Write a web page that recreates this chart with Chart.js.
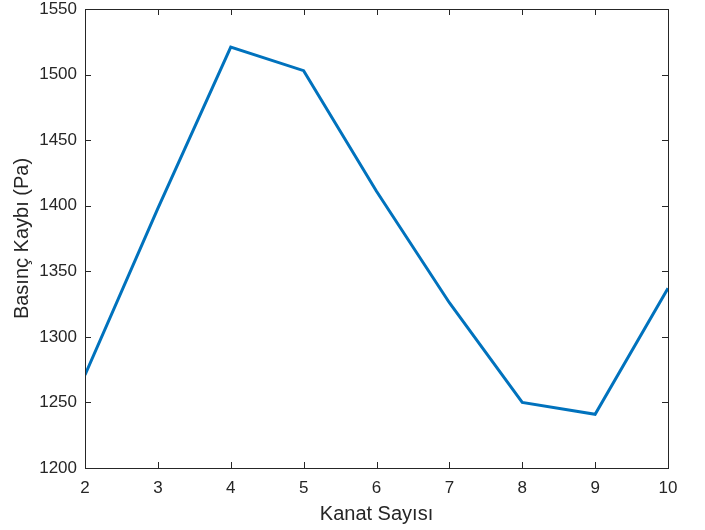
<!DOCTYPE html>
<html>
<head>
<meta charset="utf-8">
<script src="https://cdn.jsdelivr.net/npm/chart.js@4/dist/chart.umd.min.js"></script>
<style>
  html, body { margin: 0; padding: 0; background: #fff; }
  #wrap { width: 705px; height: 530px; }
</style>
</head>
<body>
<div id="wrap"><canvas id="chart"></canvas></div>
<script>
var kanat_sayisi = [2, 3, 4, 5, 6, 7, 8, 9, 10];
var basinc_kaybi = [1271, 1398, 1521, 1503, 1411, 1326, 1250, 1241, 1337];
var x_ticks = [2, 3, 4, 5, 6, 7, 8, 9, 10];
var y_ticks = [1200, 1250, 1300, 1350, 1400, 1450, 1500, 1550];

var axis_color = '#262626';
var font_family = 'Liberation Sans, Arial, sans-serif';

// MATLAB style box with inward ticks on all four sides
var boxPlugin = {
  id: 'box',
  afterDatasetsDraw: function (chart)
  {
    var ctx = chart.ctx;
    var a = chart.chartArea;
    var xs = chart.scales.x;
    var ys = chart.scales.y;
    var len = 6;
    ctx.save();
    ctx.strokeStyle = axis_color;
    ctx.lineWidth = 1;
    ctx.beginPath();
    x_ticks.forEach(function (v) {
      var px = Math.round(xs.getPixelForValue(v)) + 0.5;
      ctx.moveTo(px, a.bottom); ctx.lineTo(px, a.bottom - len);
      ctx.moveTo(px, a.top); ctx.lineTo(px, a.top + len);
    });
    y_ticks.forEach(function (v) {
      var py = Math.round(ys.getPixelForValue(v)) + 0.5;
      ctx.moveTo(a.left, py); ctx.lineTo(a.left + len, py);
      ctx.moveTo(a.right, py); ctx.lineTo(a.right - len, py);
    });
    ctx.stroke();
    ctx.strokeRect(Math.round(a.left) + 0.5, Math.round(a.top) + 0.5,
                   Math.round(a.right - a.left), Math.round(a.bottom - a.top));
    ctx.restore();
  }
};

var chart = new Chart(document.getElementById('chart'), {
  type: 'line',
  data: {
    datasets: [{
      data: kanat_sayisi.map(function (x, i) { return { x: x, y: basinc_kaybi[i] }; }),
      borderColor: '#0072BD',
      borderWidth: 3,
      pointRadius: 0,
      fill: false,
      tension: 0
    }]
  },
  options: {
    animation: false,
    responsive: true,
    maintainAspectRatio: false,
    layout: { padding: { top: 0, right: 37, left: 0, bottom: 0 } },
    plugins: { legend: { display: false }, tooltip: { enabled: false } },
    scales: {
      x: {
        type: 'linear',
        min: 2,
        max: 10,
        afterBuildTicks: function (s) { s.ticks = x_ticks.map(function (v) { return { value: v }; }); },
        afterFit: function (s) { s.height = 62; },
        grid: { display: false, drawTicks: false },
        border: { display: false },
        ticks: { color: axis_color, font: { family: font_family, size: 17 }, padding: 10, maxRotation: 0,
                 callback: function (v) { return String(v); } },
        title: { display: true, text: 'Kanat Sayısı', color: axis_color,
                 font: { family: font_family, size: 20 }, padding: { top: 3, bottom: 4 } }
      },
      y: {
        type: 'linear',
        min: 1200,
        max: 1550,
        afterBuildTicks: function (s) { s.ticks = y_ticks.map(function (v) { return { value: v }; }); },
        afterFit: function (s) { s.width = 85; s.paddingTop = 9; },
        grid: { display: false, drawTicks: false },
        border: { display: false },
        ticks: { color: axis_color, font: { family: font_family, size: 17 }, padding: 8,
                 callback: function (v) { return String(v); } },
        title: { display: true, text: 'Basınç Kaybı (Pa)', color: axis_color,
                 font: { family: font_family, size: 20 }, padding: { top: 10, bottom: 0 } }
      }
    }
  },
  plugins: [boxPlugin]
});
</script>
</body>
</html>
